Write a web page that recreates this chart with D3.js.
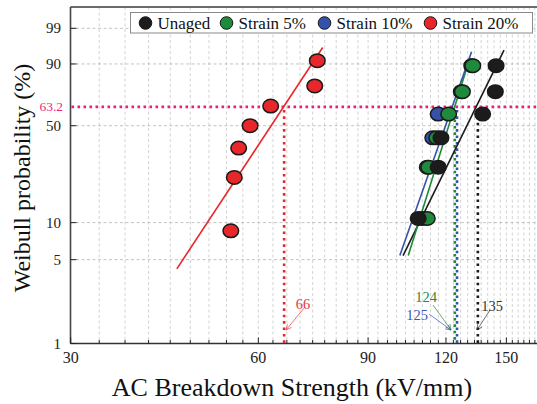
<!DOCTYPE html>
<html><head><meta charset="utf-8">
<script src="https://cdn.jsdelivr.net/npm/d3@7"></script>
<style>html,body{margin:0;padding:0;background:#fff;}svg{display:block;}</style>
</head><body>
<svg id="chart" width="537" height="404"></svg>
<script>
// ---- data ----
const seriesNames = ["Unaged", "Strain 5%", "Strain 10%", "Strain 20%"];
const seriesColors = ["#1c1c1c", "#1f8a3b", "#3552a8", "#e8272b"];
const unagedStrength   = [108.3, 116.6, 117.8, 137.4, 144.0, 144.4];
const unagedProb       = [10.8, 26.6, 42.2, 58.1, 73.9, 89.2];
const strain5Strength  = [112.0, 112.6, 116.0, 121.2, 127.5, 132.5];
const strain5Prob      = [10.8, 26.6, 42.2, 58.1, 73.9, 89.2];
const strain10Strength = [110.0, 112.0, 114.3, 116.6, 127.0, 132.0];
const strain10Prob     = [10.8, 26.6, 42.2, 58.1, 73.9, 89.2];
const strain20Strength = [54.2, 54.9, 55.8, 58.2, 62.8, 73.9, 74.6];
const strain20Prob     = [8.6, 22.4, 36.2, 50.0, 63.8, 77.7, 91.4];
// fitted lines: [strength, probability] end points
const unagedFit   = [[102.4, 5.4], [148.7, 95.1]];
const strain5Fit  = [[104.4, 5.4], [131.1, 92.5]];
const strain10Fit = [[101.2, 5.4], [131.9, 94.6]];
const strain20Fit = [[44.4, 4.2], [76.1, 95.8]];
// characteristic (63.2%) strengths
const scaleValues = [135, 124, 125, 66];
const charProb = 63.2;
const xTickLabels = [30, 60, 90, 120, 150];
const yTickLabels = [1, 5, 10, 50, 90, 99];

const series = [
  {name: seriesNames[0], color: seriesColors[0], x: unagedStrength,   p: unagedProb,   fit: unagedFit,   alpha: scaleValues[0]},
  {name: seriesNames[1], color: seriesColors[1], x: strain5Strength,  p: strain5Prob,  fit: strain5Fit,  alpha: scaleValues[1]},
  {name: seriesNames[2], color: seriesColors[2], x: strain10Strength, p: strain10Prob, fit: strain10Fit, alpha: scaleValues[2]},
  {name: seriesNames[3], color: seriesColors[3], x: strain20Strength, p: strain20Prob, fit: strain20Fit, alpha: scaleValues[3]}
];

// ---- layout ----
const L = 70.5, R = 541, T = 7, B = 343.5;
const font = "'Liberation Serif','Times New Roman',serif";
const svg = d3.select("#chart");
const Wb = p => Math.log(-Math.log(1 - p / 100));
const x = d3.scaleLog().domain([30, 170]).range([70.7, 70.7 + 270.7 * Math.log(170 / 30)]);
const y = d3.scaleLinear().domain([Wb(1), Wb(99)]).range([343.5, 28.3]);

const minorTicks = d3.range(0, 43).map(i => 30 + i * 10 / 3).filter(v => v <= 170);

// grid
svg.append("g").selectAll("line").data(minorTicks.slice(1)).join("line")
  .attr("x1", d => x(d)).attr("x2", d => x(d)).attr("y1", T).attr("y2", B)
  .attr("stroke", "#c8c8c8").attr("stroke-width", 0.8).attr("stroke-dasharray", "3,2.5");
svg.append("g").selectAll("line").data(yTickLabels.slice(1)).join("line")
  .attr("x1", L).attr("x2", R).attr("y1", d => y(Wb(d))).attr("y2", d => y(Wb(d)))
  .attr("stroke", "#b4b4b4").attr("stroke-width", 0.8).attr("stroke-dasharray", "3,2.5");

// frame
svg.append("line").attr("x1", L).attr("x2", R).attr("y1", T).attr("y2", T).attr("stroke", "#6a6a6a").attr("stroke-width", 2);
svg.append("line").attr("x1", L).attr("x2", L).attr("y1", T).attr("y2", B).attr("stroke", "#444").attr("stroke-width", 1.6);
svg.append("line").attr("x1", L).attr("x2", R).attr("y1", B).attr("y2", B).attr("stroke", "#333").attr("stroke-width", 1.6);

// x ticks (inward)
svg.append("g").selectAll("line").data(minorTicks).join("line")
  .attr("x1", d => x(d)).attr("x2", d => x(d))
  .attr("y1", B).attr("y2", d => xTickLabels.some(t => Math.abs(t - d) < 0.01) ? B - 6 : B - 3.5)
  .attr("stroke", "#222").attr("stroke-width", 1);
svg.append("g").selectAll("text").data(xTickLabels).join("text")
  .attr("x", d => x(d)).attr("y", 363).attr("text-anchor", "middle")
  .attr("font-family", font).attr("font-size", 16).attr("fill", "#222").text(d => d);

// y ticks
svg.append("g").selectAll("line").data(yTickLabels).join("line")
  .attr("x1", L).attr("x2", L + 6).attr("y1", d => y(Wb(d))).attr("y2", d => y(Wb(d)))
  .attr("stroke", "#222").attr("stroke-width", 1);
svg.append("g").selectAll("text").data(yTickLabels).join("text")
  .attr("x", 61).attr("y", d => y(Wb(d)) + 5).attr("text-anchor", "end")
  .attr("font-family", font).attr("font-size", 15).attr("fill", "#222").text(d => d);

// 63.2 % line
const pink = "#ec1f7d";
svg.append("line").attr("x1", L + 1).attr("x2", R).attr("y1", y(Wb(charProb))).attr("y2", y(Wb(charProb)))
  .attr("stroke", pink).attr("stroke-width", 2.6).attr("stroke-dasharray", "2.6,3.4");
svg.append("text").attr("x", 63).attr("y", y(Wb(charProb)) + 4).attr("text-anchor", "end")
  .attr("font-family", font).attr("font-size", 13.5).attr("fill", pink).text(charProb);

// vertical dotted lines at characteristic strengths (draw blue first, then green, black, red)
const dotOrder = [2, 1, 0, 3];
dotOrder.forEach(i => {
  const s = series[i];
  svg.append("line").attr("x1", x(s.alpha)).attr("x2", x(s.alpha))
    .attr("y1", y(Wb(charProb)) + 3).attr("y2", B)
    .attr("stroke", s.color).attr("stroke-width", 2.6)
    .attr("stroke-dasharray", "2.6,3.8").attr("stroke-dashoffset", i === 1 ? 3.2 : 0);
});

// fit lines
series.forEach(s => {
  svg.append("line")
    .attr("x1", x(s.fit[0][0])).attr("y1", y(Wb(s.fit[0][1])))
    .attr("x2", x(s.fit[1][0])).attr("y2", y(Wb(s.fit[1][1])))
    .attr("stroke", s.color).attr("stroke-width", 1.6);
});

// points: red, blue, green, black (black on top)
[3, 2, 1, 0].forEach(i => {
  const s = series[i];
  svg.append("g").selectAll("ellipse").data(s.x.map((v, j) => [v, s.p[j]])).join("ellipse")
    .attr("cx", d => x(d[0])).attr("cy", d => y(Wb(d[1])))
    .attr("rx", 7.8).attr("ry", 6.8)
    .attr("fill", s.color).attr("stroke", "#1a1a1a").attr("stroke-width", 1.5);
});

// annotations with arrows
const annot = [
  {i: 3, tx: 303, ty: 309, ax1: 305, ay1: 307, ax2: 286, ay2: 330, fill: "#e8363a"},
  {i: 1, tx: 426, ty: 302, ax1: 433, ay1: 305, ax2: 451, ay2: 330, fill: "#2f8a3a"},
  {i: 2, tx: 417, ty: 320, ax1: 429, ay1: 314, ax2: 451, ay2: 330, fill: "#3c58b4"},
  {i: 0, tx: 492, ty: 311, ax1: 490, ay1: 310, ax2: 477, ay2: 330, fill: "#333"}
];
annot.forEach(a => {
  const s = series[a.i];
  svg.append("text").attr("x", a.tx).attr("y", a.ty).attr("text-anchor", "middle")
    .attr("font-family", font).attr("font-size", 14.5).attr("fill", a.fill).text(s.alpha);
  svg.append("line").attr("x1", a.ax1).attr("y1", a.ay1).attr("x2", a.ax2).attr("y2", a.ay2)
    .attr("stroke", a.fill).attr("stroke-width", 0.7);
  const ang = Math.atan2(a.ay2 - a.ay1, a.ax2 - a.ax1);
  const hl = 6, hw = 0.45;
  const p1 = [a.ax2 - hl * Math.cos(ang - hw), a.ay2 - hl * Math.sin(ang - hw)];
  const p2 = [a.ax2 - hl * Math.cos(ang + hw), a.ay2 - hl * Math.sin(ang + hw)];
  svg.append("path").attr("d", `M${p1}L${a.ax2},${a.ay2}L${p2}`)
    .attr("fill", "none").attr("stroke", a.fill).attr("stroke-width", 0.7);
});

// legend
const lg = svg.append("g");
lg.append("rect").attr("x", 130.5).attr("y", 12.5).attr("width", 402).attr("height", 20.5)
  .attr("fill", "#fff").attr("stroke", "#8a8a8a").attr("stroke-width", 1);
const legX = [145.5, 226.5, 324.5, 430.5];
series.forEach((s, i) => {
  lg.append("circle").attr("cx", legX[i]).attr("cy", 23).attr("r", 6.3)
    .attr("fill", s.color).attr("stroke", "#1a1a1a").attr("stroke-width", 1);
  lg.append("text").attr("x", legX[i] + 12).attr("y", 28.5)
    .attr("font-family", font).attr("font-size", 17).attr("fill", "#111").text(s.name);
});

// axis titles
svg.append("text").attr("x", 292).attr("y", 396).attr("text-anchor", "middle")
  .attr("font-family", font).attr("font-size", 26).attr("fill", "#111")
  .text("AC Breakdown Strength (kV/mm)");
svg.append("text").attr("transform", "translate(30,178) rotate(-90)").attr("text-anchor", "middle")
  .attr("font-family", font).attr("font-size", 24).attr("fill", "#111")
  .text("Weibull probability (%)");
</script>
</body></html>
